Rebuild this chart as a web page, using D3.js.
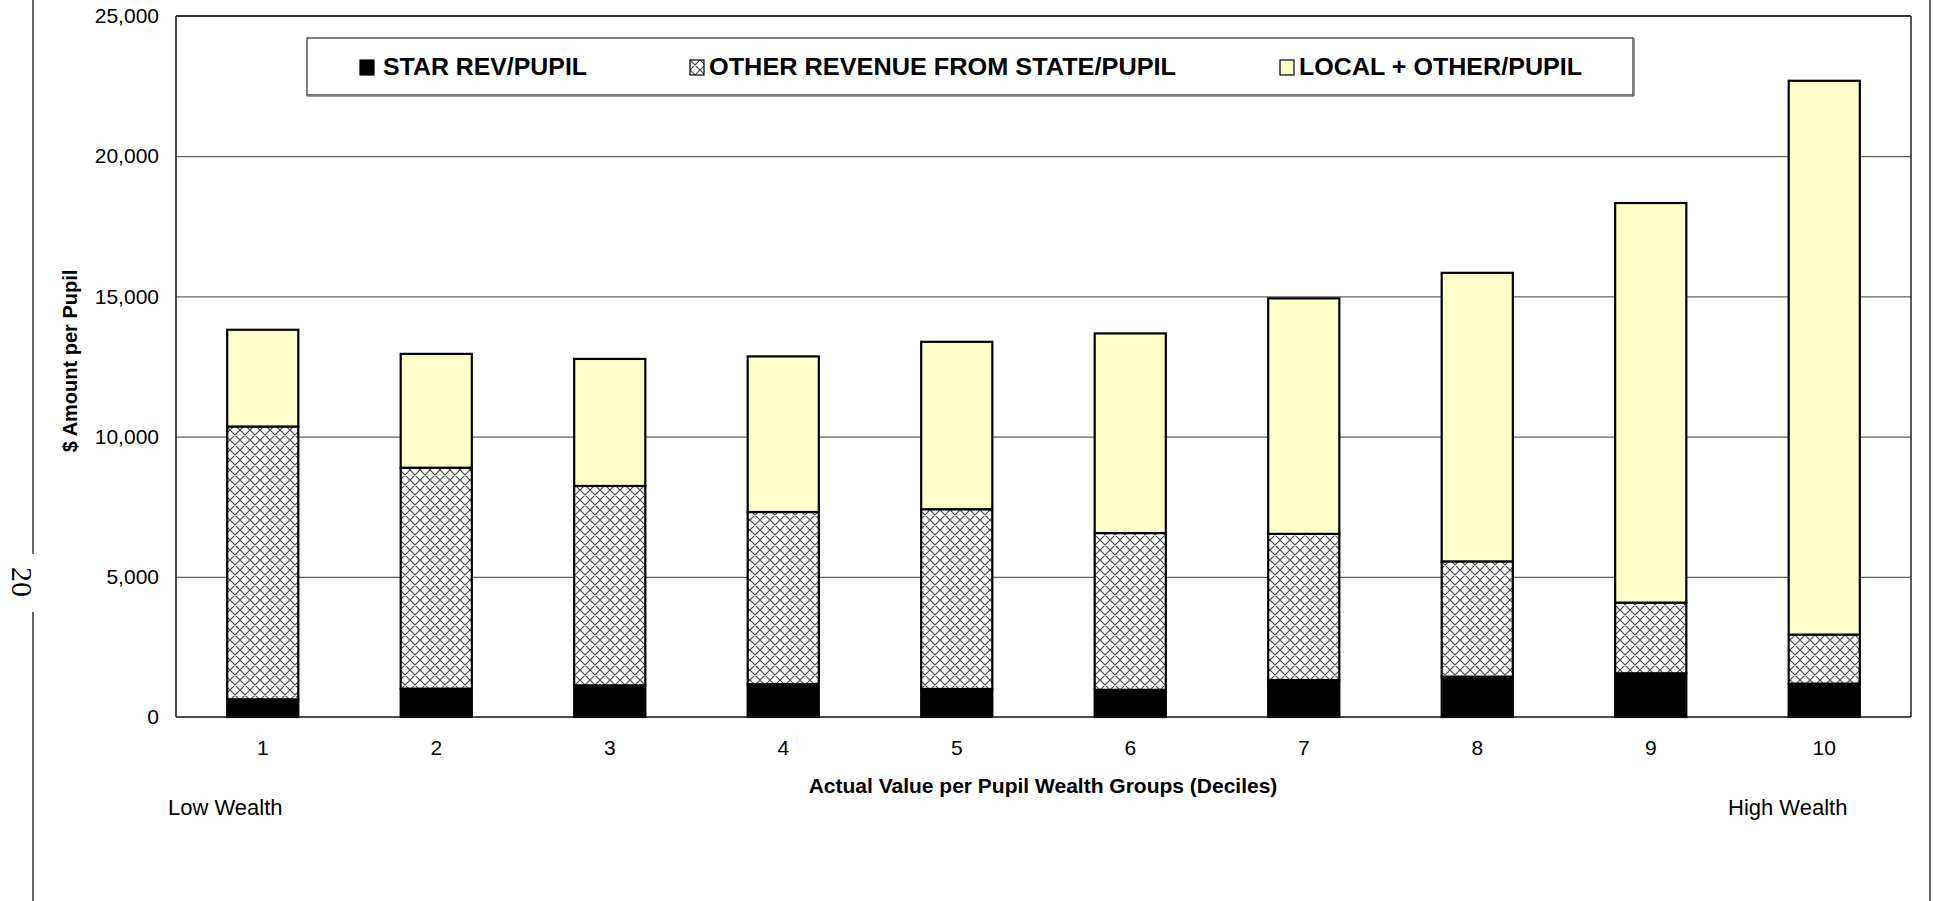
<!DOCTYPE html>
<html>
<head>
<meta charset="utf-8">
<script src="https://cdn.jsdelivr.net/npm/d3@7/dist/d3.min.js"></script>
<style>
  html, body { margin: 0; padding: 0; background: #fff; }
  svg { display: block; }
  text { font-family: "Liberation Sans", Arial, sans-serif; fill: #000; }
</style>
</head>
<body>
<svg id="chart" width="1934" height="901"></svg>
<script>
// ---- data ----
const categories = ["1", "2", "3", "4", "5", "6", "7", "8", "9", "10"];
const seriesNames = ["STAR REV/PUPIL", "OTHER REVENUE FROM STATE/PUPIL", "LOCAL + OTHER/PUPIL"];
const starRev    = [630, 1010, 1130, 1170, 1000, 970, 1320, 1440, 1560, 1190];
const otherState = [9730, 7880, 7110, 6140, 6410, 5590, 5210, 4110, 2520, 1750];
const localOther = [3450, 4060, 4530, 5550, 5970, 7120, 8400, 10290, 14250, 19750];
const yTicks = [0, 5000, 10000, 15000, 20000, 25000];
const yTitle = "$ Amount per Pupil";
const xTitle = "Actual Value per Pupil Wealth Groups (Deciles)";
const lowLabel = "Low Wealth";
const highLabel = "High Wealth";
const pageNumber = "20";

// ---- layout ----
const svg = d3.select("#chart");
const L = 176, R = 1911, T = 16, B = 717;

const rows = categories.map((c, i) => ({ cat: c, s0: starRev[i], s1: otherState[i], s2: localOther[i] }));
const keys = ["s0", "s1", "s2"];
const stacked = d3.stack().keys(keys)(rows);

const x = d3.scaleBand().domain(categories).range([L, R]).paddingInner(0.59).paddingOuter(0.295);
const y = d3.scaleLinear().domain([0, 25000]).range([B, T]);

// pattern
const defs = svg.append("defs");
const P = 10;
const pat = defs.append("pattern").attr("id", "hatch").attr("patternUnits", "userSpaceOnUse")
  .attr("width", P).attr("height", P);
pat.append("rect").attr("width", P).attr("height", P).attr("fill", "#fff");
pat.append("path").attr("d", `M0,0 L${P},${P} M${P},0 L0,${P} M-1,${P-1} L1,${P+1} M${P-1},-1 L${P+1},1 M-1,1 L1,-1 M${P-1},${P+1} L${P+1},${P-1}`)
  .attr("stroke", "#4a4a4a").attr("stroke-width", 1.2).attr("fill", "none");

const fills = { s0: "#000000", s1: "url(#hatch)", s2: "#FFFFCC" };

// page frame lines
svg.append("line").attr("x1", 33).attr("x2", 33).attr("y1", 0).attr("y2", 554)
  .attr("stroke", "#333").attr("stroke-width", 1.5);
svg.append("line").attr("x1", 33).attr("x2", 33).attr("y1", 612).attr("y2", 901)
  .attr("stroke", "#333").attr("stroke-width", 1.5);
svg.append("line").attr("x1", 1930).attr("x2", 1930).attr("y1", 0).attr("y2", 901)
  .attr("stroke", "#333").attr("stroke-width", 1.5);
svg.append("text").text(pageNumber)
  .attr("transform", "translate(12,582) rotate(90)")
  .attr("text-anchor", "middle")
  .style("font-family", "'Liberation Serif', 'Times New Roman', serif")
  .style("font-size", "30px");

// gridlines
svg.append("g").attr("transform", `translate(${L},0)`)
  .call(d3.axisLeft(y).tickValues(yTicks.filter(v => v > 0 && v < 25000)).tickSize(-(R - L)).tickFormat(""))
  .call(g => g.select(".domain").remove())
  .call(g => g.selectAll(".tick line").attr("stroke", "#3a3a3a").attr("stroke-width", 1));

// y tick labels
svg.append("g").attr("transform", `translate(${L},0)`)
  .call(d3.axisLeft(y).tickValues(yTicks).tickSize(0).tickPadding(17).tickFormat(d3.format(",")))
  .call(g => g.select(".domain").remove())
  .call(g => g.selectAll("text").style("font-size", "21px").style("font-family", "'Liberation Sans', Arial, sans-serif"));

// bars
const layers = svg.append("g").selectAll("g").data(stacked).join("g")
  .attr("fill", d => fills[d.key]);
layers.selectAll("rect").data(d => d).join("rect")
  .attr("x", d => x(d.data.cat))
  .attr("width", x.bandwidth())
  .attr("y", d => y(d[1]))
  .attr("height", d => y(d[0]) - y(d[1]))
  .attr("stroke", "#000").attr("stroke-width", 2.2);

// plot frame
svg.append("line").attr("x1", L).attr("x2", R).attr("y1", T).attr("y2", T).attr("stroke", "#333").attr("stroke-width", 2);
svg.append("line").attr("x1", R).attr("x2", R).attr("y1", T).attr("y2", B).attr("stroke", "#222").attr("stroke-width", 1.5);
svg.append("line").attr("x1", L).attr("x2", L).attr("y1", T).attr("y2", B).attr("stroke", "#111").attr("stroke-width", 1.5);
svg.append("line").attr("x1", L).attr("x2", R).attr("y1", B).attr("y2", B).attr("stroke", "#111").attr("stroke-width", 1.5);

// x tick labels
svg.append("g").attr("transform", `translate(0,${B})`)
  .call(d3.axisBottom(x).tickSize(0).tickPadding(23))
  .call(g => g.select(".domain").remove())
  .call(g => g.selectAll("text").style("font-size", "21px").style("font-family", "'Liberation Sans', Arial, sans-serif"));

// axis titles
svg.append("text").text(xTitle).attr("x", 1043).attr("y", 793).attr("text-anchor", "middle")
  .style("font-size", "21px").style("font-weight", "bold");
svg.append("text").text(yTitle).attr("transform", "translate(77,361) rotate(-90)").attr("text-anchor", "middle")
  .style("font-size", "20px").style("font-weight", "bold");
svg.append("text").text(lowLabel).attr("x", 168).attr("y", 815).style("font-size", "22px");
svg.append("text").text(highLabel).attr("x", 1728).attr("y", 815).style("font-size", "22px");

// legend
const lg = svg.append("g");
lg.append("rect").attr("x", 307).attr("y", 38).attr("width", 1326).attr("height", 57)
  .attr("fill", "#fff").attr("stroke", "#000").attr("stroke-width", 1);
lg.append("line").attr("x1", 307).attr("x2", 1634).attr("y1", 96).attr("y2", 96).attr("stroke", "#777").attr("stroke-width", 1.5);
lg.append("line").attr("x1", 1634).attr("x2", 1634).attr("y1", 38).attr("y2", 96).attr("stroke", "#777").attr("stroke-width", 1.5);
const legendItems = [
  { key: "s0", sx: 360, tx: 383, len: 204 },
  { key: "s1", sx: 690, tx: 709, len: 467 },
  { key: "s2", sx: 1280, tx: 1299, len: 283 }
];
legendItems.forEach((it, i) => {
  lg.append("rect").attr("x", it.sx).attr("y", 60).attr("width", 14).attr("height", 15)
    .attr("fill", fills[it.key]).attr("stroke", "#000").attr("stroke-width", 1.2);
  lg.append("text").text(seriesNames[i]).attr("x", it.tx).attr("y", 75)
    .attr("textLength", it.len).attr("lengthAdjust", "spacingAndGlyphs")
    .style("font-size", "23px").style("font-weight", "bold");
});
</script>
</body>
</html>
